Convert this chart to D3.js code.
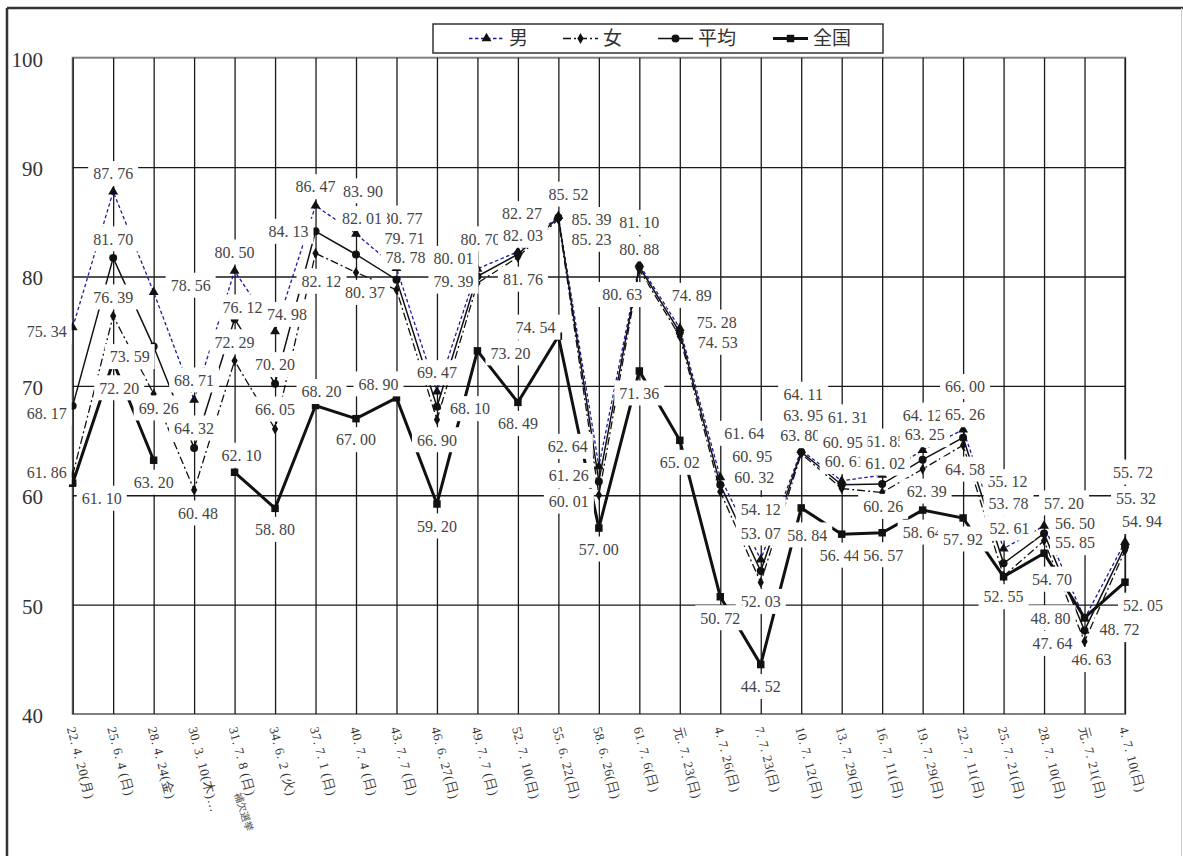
<!DOCTYPE html>
<html><head><meta charset="utf-8">
<script src="https://cdn.jsdelivr.net/npm/d3@7"></script>
<style>body{margin:0;background:#fff;} svg{display:block}</style>
</head><body><svg id="c" width="1183" height="856"></svg>
<script>
// ---------- data ----------
const categories = ["22. 4. 20(月)","25. 6. 4 (日)","28. 4. 24(金)","30. 3. 10(木)…","31. 7. 8 (日)","34. 6. 2 (火)","37. 7. 1 (日)","40. 7. 4 (日)","43. 7. 7 (日)","46. 6. 27(日)","49. 7. 7 (日)","52. 7. 10(日)","55. 6. 22(日)","58. 6. 26(日)","61. 7. 6(日)","元. 7. 23(日)","4. 7. 26(日)","7. 7. 23(日)","10. 7. 12(日)","13. 7. 29(日)","16. 7. 11(日)","19. 7. 29(日)","22. 7. 11(日)","25. 7. 21(日)","28. 7. 10(日)","元. 7. 21(日)","4. 7. 10(日)"];
const male     = [75.34,87.76,78.56,68.71,80.50,74.98,86.47,83.90,80.77,69.47,80.70,82.27,85.52,62.64,81.10,75.28,61.64,54.12,64.11,61.31,61.85,64.12,66.00,55.12,57.20,48.72,55.72];
const female   = [61.86,76.39,69.26,60.48,72.29,66.05,82.12,80.37,78.78,66.90,79.39,81.76,85.23,60.01,80.63,74.53,60.32,52.03,63.80,60.61,60.26,62.39,64.58,52.61,55.85,46.63,54.94];
const average  = [68.17,81.70,73.59,64.32,76.12,70.20,84.13,82.01,79.71,68.10,80.01,82.03,85.39,61.26,80.88,74.89,60.95,53.07,63.95,60.95,61.02,63.25,65.26,53.78,56.50,47.64,55.32];
const national = [61.10,72.20,63.20,null,62.10,58.80,68.20,67.00,68.90,59.20,73.20,68.49,74.54,57.00,71.36,65.02,50.72,44.52,58.84,56.44,56.57,58.64,57.92,52.55,54.70,48.80,52.05];
const seriesNames = ["男","女","平均","全国"];
const yTickValues = [40,50,60,70,80,90,100];
const byElectionNote = "補欠選挙";

// ---------- label placement (pixel offsets from each point, layout only) ----------
const maleOff = [[-26,4],[0,-18],[37,-7],[0,-20],[0,-19],[12,-17],[0,-19],[7,-43],[6,-50],[0,-19],[3,-30],[4,-38],[10,-22],[-31,-20],[0,-42],[37,-6],[24,-44],[0,-50],[2,-56],[6,-64],[3,-34],[0,-35],[2,-43],[4,-67],[20,-23],[35,11],[8,-70]];
const femaleOff = [[-26,-3],[0,-19],[5,14],[4,23],[0,-19],[0,-20],[6,28],[9,20],[9,-33],[0,20],[-24,-2],[5,22],[33,20],[-30,6],[-17,25],[38,6],[34,-14],[0,19],[-1,-18],[3,-27],[1,14],[4,22],[2,24],[6,-48],[31,2],[7,18],[17,-29]];
const avgOff = [[-26,7],[0,-19],[-24,10],[0,-20],[8,-12],[0,-19],[-27,0],[6,-36],[8,-41],[33,2],[-24,-18],[5,-19],[33,2],[-30,-6],[0,-18],[12,-37],[32,-29],[0,-38],[2,-37],[1,-43],[3,-21],[2,-25],[2,-23],[5,-60],[31,-10],[-32,13],[11,-48]];
const natOff = [[29,15],[6,26],[0,22],[0,0],[7,-17],[0,21],[6,-14],[0,21],[-18,-14],[0,22],[33,2],[0,21],[-23,-9],[0,21],[0,22],[0,22],[0,21],[0,22],[6,27],[-2,21],[1,22],[0,22],[0,21],[0,20],[8,26],[-34,0],[18,23]];

// ---------- setup ----------
const svg = d3.select("#c");
const M = {left:72.7, right:1125, top:57.7, bottom:714};
const x = d3.scalePoint().domain(d3.range(categories.length)).range([M.left, M.right]);
const y = d3.scaleLinear().domain([40,100]).range([M.bottom, M.top]);
const SERIF = "'Liberation Serif','DejaVu Serif',serif";
const CJK = "'Noto Sans CJK JP','Noto Sans CJK SC',sans-serif";

// outer frame
svg.append("line").attr("x1",7).attr("x2",1183).attr("y1",8).attr("y2",8).attr("stroke","#333").attr("stroke-width",2.5);
svg.append("line").attr("x1",7).attr("x2",7).attr("y1",8).attr("y2",856).attr("stroke","#333").attr("stroke-width",2.5);
svg.append("line").attr("x1",1181.5).attr("x2",1181.5).attr("y1",8).attr("y2",856).attr("stroke","#ccc").attr("stroke-width",1);

// plot border
svg.append("rect").attr("x",M.left).attr("y",M.top).attr("width",M.right-M.left).attr("height",M.bottom-M.top)
  .attr("fill","none").attr("stroke","#808080").attr("stroke-width",2);

// horizontal grid
const gy = svg.append("g").attr("transform",`translate(${M.left},0)`)
  .call(d3.axisLeft(y).tickValues(yTickValues.filter(v=>v>40&&v<100)).tickSize(-(M.right-M.left)).tickFormat(""));
gy.select(".domain").remove();
gy.selectAll("line").attr("stroke","#1a1a1a").attr("stroke-width",1.4);

// vertical grid
const gx = svg.append("g").attr("transform",`translate(0,${M.bottom})`)
  .call(d3.axisBottom(x).tickSize(-(M.bottom-M.top)).tickFormat(""));
gx.select(".domain").remove();
gx.selectAll("line").attr("stroke","#1a1a1a").attr("stroke-width",1.3);

// y labels
const yl = svg.append("g").attr("transform",`translate(43,0)`)
  .call(d3.axisLeft(y).tickValues(yTickValues).tickSize(0).tickPadding(0));
yl.select(".domain").remove();
yl.selectAll("text").attr("font-family",SERIF).attr("font-size",21).attr("fill","#333").attr("dy","0.4em");

// x labels
const xl = svg.append("g").attr("transform",`translate(0,${M.bottom})`)
  .call(d3.axisBottom(x).tickSize(0).tickFormat(i=>categories[i]));
xl.select(".domain").remove();
xl.selectAll("text").attr("font-family",SERIF).attr("font-size",13).attr("fill","#333")
  .attr("text-anchor","start").attr("x",0).attr("y",0).attr("dy","0.35em")
  .attr("letter-spacing","0.6px")
  .attr("transform","translate(-2,13) rotate(75)");
svg.append("text").text(byElectionNote)
  .attr("font-family",CJK).attr("font-size",10).attr("fill","#555")
  .attr("transform",`translate(${x(3)+40},${M.bottom+80}) rotate(72)`);

// ---------- series ----------
const series = [
  {name:seriesNames[0], values:male, off:maleOff, stroke:"#1a1aa0", width:1.3, dash:"3.5,2.5", sym:d3.symbolTriangle, size:42},
  {name:seriesNames[1], values:female, off:femaleOff, stroke:"#111", width:1.3, dash:"8,3,2,3", sym:d3.symbolDiamond, size:34},
  {name:seriesNames[2], values:average, off:avgOff, stroke:"#111", width:1.5, dash:null, sym:d3.symbolCircle, size:50},
  {name:seriesNames[3], values:national, off:natOff, stroke:"#111", width:3, dash:null, sym:d3.symbolSquare, size:56}
];
const line = d3.line().defined(d=>d!=null).x((d,i)=>x(i)).y(d=>y(d));
const lineGen = vals => d3.line().defined(d=>d.v!=null).x(d=>x(d.i)).y(d=>y(d.v))(vals.map((v,i)=>({v,i})));

series.forEach(s=>{
  svg.append("path").attr("d",lineGen(s.values)).attr("fill","none")
    .attr("stroke",s.stroke).attr("stroke-width",s.width).attr("stroke-dasharray",s.dash)
    .attr("stroke-linejoin","miter");
});
series.forEach(s=>{
  svg.append("g").selectAll("path").data(s.values.map((v,i)=>({v,i})).filter(d=>d.v!=null)).join("path")
    .attr("d",d3.symbol().type(s.sym).size(s.size))
    .attr("transform",d=>`translate(${x(d.i)},${y(d.v)})`)
    .attr("fill","#111");
});

// ---------- data labels ----------
const fmt = v => v.toFixed(2).replace(".",". ");
series.forEach(s=>{
  const g = svg.append("g");
  s.values.forEach((v,i)=>{
    if(v==null) return;
    const cx = x(i)+s.off[i][0], cy = y(v)+s.off[i][1];
    g.append("rect").attr("x",cx-25).attr("y",cy-12.5).attr("width",50).attr("height",25).attr("fill","#fff");
    g.append("text").attr("x",cx).attr("y",cy).attr("dy","0.36em").attr("text-anchor","middle")
      .attr("font-family",SERIF).attr("font-size",16).attr("fill","#444").text(fmt(v));
  });
});

// ---------- legend ----------
const lg = svg.append("g");
lg.append("rect").attr("x",433).attr("y",24).attr("width",450).attr("height",29).attr("fill","#fff").attr("stroke","#333").attr("stroke-width",1.5);
const legX = [469,563,658,773];
series.forEach((s,k)=>{
  const lx = legX[k], ly = 38.5;
  lg.append("line").attr("x1",lx).attr("x2",lx+35).attr("y1",ly).attr("y2",ly)
    .attr("stroke",s.stroke).attr("stroke-width",s.width).attr("stroke-dasharray",s.dash);
  lg.append("path").attr("d",d3.symbol().type(s.sym).size(s.size)).attr("transform",`translate(${lx+17.5},${ly})`).attr("fill","#111");
  lg.append("text").attr("x",lx+40).attr("y",ly).attr("dy","0.36em").attr("font-family",CJK)
    .attr("font-size",19).attr("fill","#333").text(s.name);
});
</script></body></html>
